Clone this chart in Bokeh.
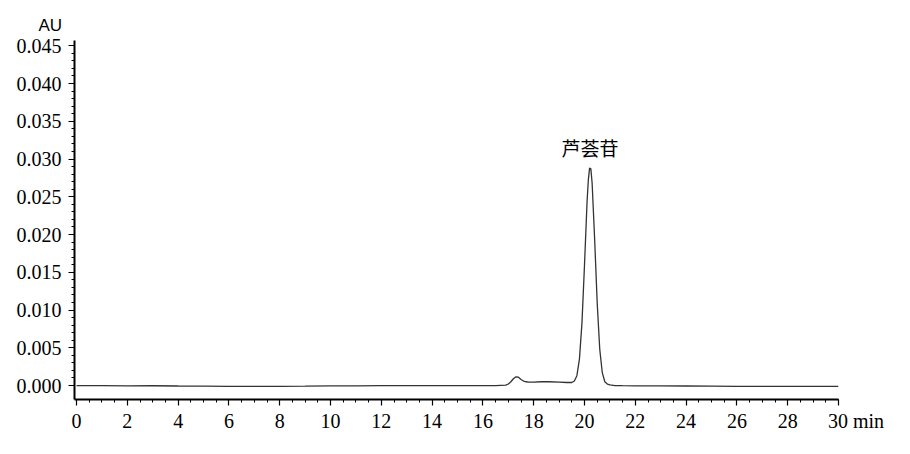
from bokeh.plotting import figure
from bokeh.models import Range1d, FixedTicker, NumeralTickFormatter, Label, Title
from bokeh.embed import file_html
from bokeh.resources import INLINE

# Chromatogram (time in min, absorbance in AU)
time_min = [0, 1, 2, 3, 4, 5, 6, 7, 8, 9, 10, 11, 12, 13, 14, 15, 16, 16.5,
            16.9, 17.0, 17.1, 17.2, 17.3, 17.4, 17.5, 17.6, 17.7, 17.8, 18.0,
            18.3, 18.6, 19.0, 19.3, 19.5, 19.6, 19.7, 19.8, 19.9, 20.0, 20.1,
            20.15, 20.2, 20.25, 20.3, 20.4, 20.5, 20.6, 20.7, 20.8, 20.9, 21.0,
            21.2, 21.5, 22, 23, 24, 25, 26, 27, 28, 29, 30]
absorbance = [0.0, -0.00002, -0.00004, -0.00003, -0.00006, -0.00008, -0.0001,
              -0.0001, -0.0001, -0.00008, -0.00005, -0.00004, -0.00002, -0.00001,
              0.0, 0.0, -0.00001, 0.0,
              0.00005, 0.0002, 0.0005, 0.0009, 0.00115, 0.0011, 0.0008, 0.0006,
              0.0005, 0.00045, 0.00045, 0.0005, 0.0005, 0.00045, 0.0004, 0.0004,
              0.0006, 0.0013, 0.0035, 0.0083, 0.0160, 0.0243, 0.0272, 0.0288,
              0.0287, 0.0268, 0.0193, 0.0109, 0.0048, 0.0017, 0.0005, 0.0002,
              0.0001, 0.0, -0.00002, -0.00004, -0.00005, -0.00006, -0.00008,
              -0.0001, -0.0001, -0.0001, -0.0001, -0.0001]

x_ticks = [0, 2, 4, 6, 8, 10, 12, 14, 16, 18, 20, 22, 24, 26, 28, 30]
x_minor = [i * 0.5 for i in range(61)]
y_ticks = [0.0, 0.005, 0.010, 0.015, 0.020, 0.025, 0.030, 0.035, 0.040, 0.045]
y_minor = [i * 0.001 for i in range(46)]

peak_label = "芦荟苷"
peak_x = 20.22
peak_y = 0.0292
y_unit = "AU"
x_unit = "min"

p = figure(width=894, height=438, output_backend="svg", toolbar_location=None,
           x_range=Range1d(-0.08, 30), y_range=Range1d(-0.00185, 0.0457),
           min_border_left=74, min_border_right=56, min_border_top=40,
           min_border_bottom=39)
p.outline_line_color = None
p.grid.visible = False
p.background_fill_color = "white"
p.border_fill_color = "white"

p.line(time_min, absorbance, line_color="#333333", line_width=1.3)

for ax in (p.xaxis[0], p.yaxis[0]):
    ax.axis_line_width = 2
    ax.axis_line_color = "black"
    ax.major_tick_line_color = "black"
    ax.minor_tick_line_color = "black"
    ax.major_tick_line_width = 1.2
    ax.major_tick_out = 6
    ax.major_tick_in = 0
    ax.minor_tick_out = 3
    ax.minor_tick_in = 0
    ax.major_label_text_font = "Liberation Serif"
    ax.major_label_text_font_size = "20px"
    ax.major_label_text_color = "black"

p.xaxis.ticker = FixedTicker(ticks=x_ticks, minor_ticks=x_minor)
p.yaxis.ticker = FixedTicker(ticks=y_ticks, minor_ticks=y_minor)
p.yaxis.formatter = NumeralTickFormatter(format="0.000")
# last x tick carries the unit; left padding keeps "30" centred on its tick
pad = "\u00a0" * 7
p.xaxis.major_label_overrides = {30: pad + "30\u00a0" + x_unit}
p.xaxis.major_label_standoff = 4
p.yaxis.major_label_standoff = 7

p.add_layout(Label(x=peak_x, y=peak_y, text=peak_label, text_align="center",
                   text_baseline="bottom", text_font="Noto Sans CJK SC",
                   text_font_size="19px", text_color="black", y_offset=4))

p.title = Title(text=y_unit, align="left", offset=-36, standoff=12,
                text_font="Liberation Sans", text_font_size="17px",
                text_font_style="normal", text_color="black")

open("out.html", "w").write(file_html(p, INLINE))
